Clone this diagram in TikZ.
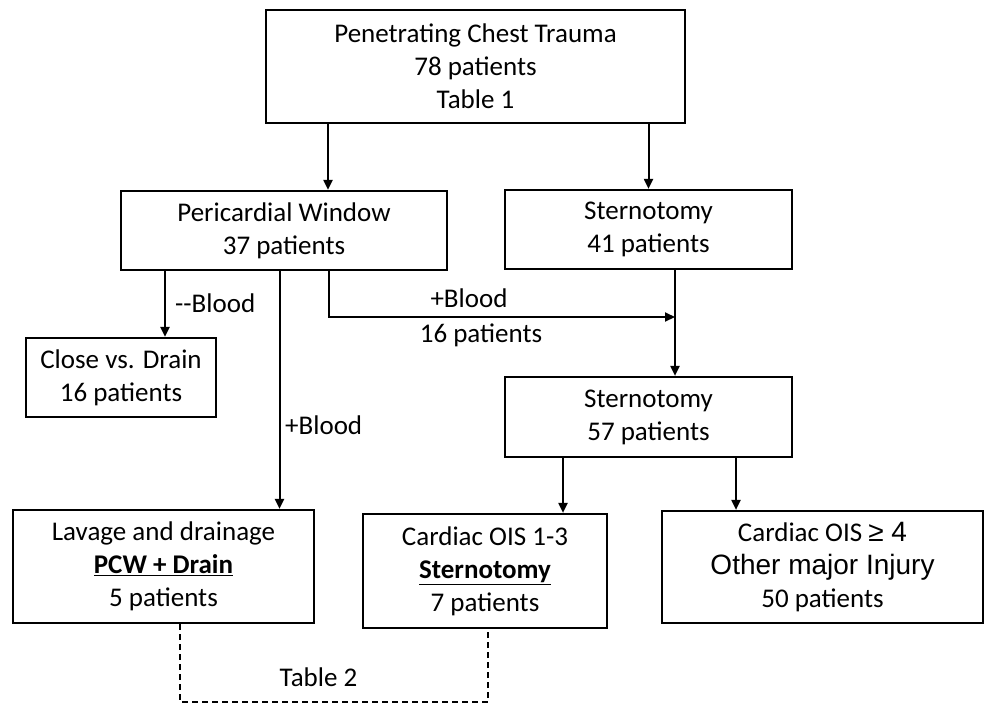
\documentclass[tikz,border=0pt]{standalone}
\usepackage{fontspec}
\setmainfont{Carlito}
\newfontfamily\arialfont{Liberation Sans}
\usetikzlibrary{
    arrows.meta,
    positioning,
    calc
}
\tikzset{
    box/.style = {
        rectangle,
        draw,
        line width=2.2pt,
        inner sep=0pt,
        align=center,
        font=\fontsize{27}{33}\selectfont
    },
    lbl/.style = {
        inner sep=0pt,
        font=\fontsize{27}{33}\selectfont
    },
    arrow/.style = {
        -{Triangle[length=10pt,width=9pt]},
        line width=2pt
    },
    link/.style = {
        dash pattern=on 6pt off 4pt,
        line width=2pt
    }
}

\begin{document}
\begin{tikzpicture}[x=1pt,y=-1pt]
\useasboundingbox (0,0) rectangle (984,704);
\node[box, minimum width=419pt, minimum height=113pt] (trauma) at (475.5,66.5)
    {Penetrating Chest Trauma\\78 patients\\Table 1};
\node[box, minimum width=326pt, minimum height=79pt] (pcw) at (284,230.5)
    {Pericardial Window\\37 patients};
\node[box, minimum width=287pt, minimum height=79pt] (stern41) at (648.5,229.5)
    {Sternotomy\\41 patients};
\node[box, minimum width=190pt, minimum height=79pt] (close) at (121,377.5)
    {Close vs. Drain\\16 patients};
\node[box, minimum width=287pt, minimum height=80pt] (stern57) at (648.5,417)
    {Sternotomy\\57 patients};
\node[box, minimum width=301pt, minimum height=113pt] (lavage) at (163.5,566.5)
    {Lavage and drainage\\\underline{\textbf{PCW + Drain}}\\5 patients};
\node[box, minimum width=244pt, minimum height=114pt] (ois13) at (485,571)
    {Cardiac OIS 1-3\\\underline{\textbf{Sternotomy}}\\7 patients};
\node[box, minimum width=321pt, minimum height=112pt] (ois4) at (822.5,567)
    {Cardiac OIS {\arialfont\fontsize{28}{33}\selectfont ≥ 4}\\
     {\arialfont\fontsize{28}{33}\selectfont Other major Injury}\\50 patients};

\coordinate (pcwin) at ([xshift=44]pcw.north);
\coordinate (closein) at ([xshift=44]close.north);
\coordinate (lavagein) at ([xshift=116]lavage.north);
\coordinate (join) at (675,317);
\coordinate (ois13in) at ([xshift=78]ois13.north);
\coordinate (ois4in) at ([xshift=-86.5]ois4.north);

\draw[arrow] (trauma.south -| pcwin) -- (pcwin);
\draw[arrow] (trauma.south -| stern41.north) -- (stern41.north);
\draw[arrow] (pcw.south -| closein) -- (closein);
\draw[arrow] (pcw.south -| lavagein) -- (lavagein);
\draw[arrow] ([xshift=45]pcw.south) |- (join);
\draw[arrow] (stern41.south -| join) -- (stern57.north -| join);
\draw[arrow] (stern57.south -| ois13in) -- (ois13in);
\draw[arrow] (stern57.south -| ois4in) -- (ois4in);
\draw[link] ([xshift=16.5]lavage.south) -- ++(0,78) -| ([xshift=3]ois13.south);

\node[lbl, anchor=west] (noblood) at (175,303) {-{}-Blood};
\node[lbl] (blood) at (469,298) {+Blood};
\node[lbl] (count) at (481,335) {16 patients};
\node[lbl, anchor=west] (blood2) at (285,425) {+Blood};
\node[lbl] (table) at (318.5,677) {Table 2};
\end{tikzpicture}
\end{document}
